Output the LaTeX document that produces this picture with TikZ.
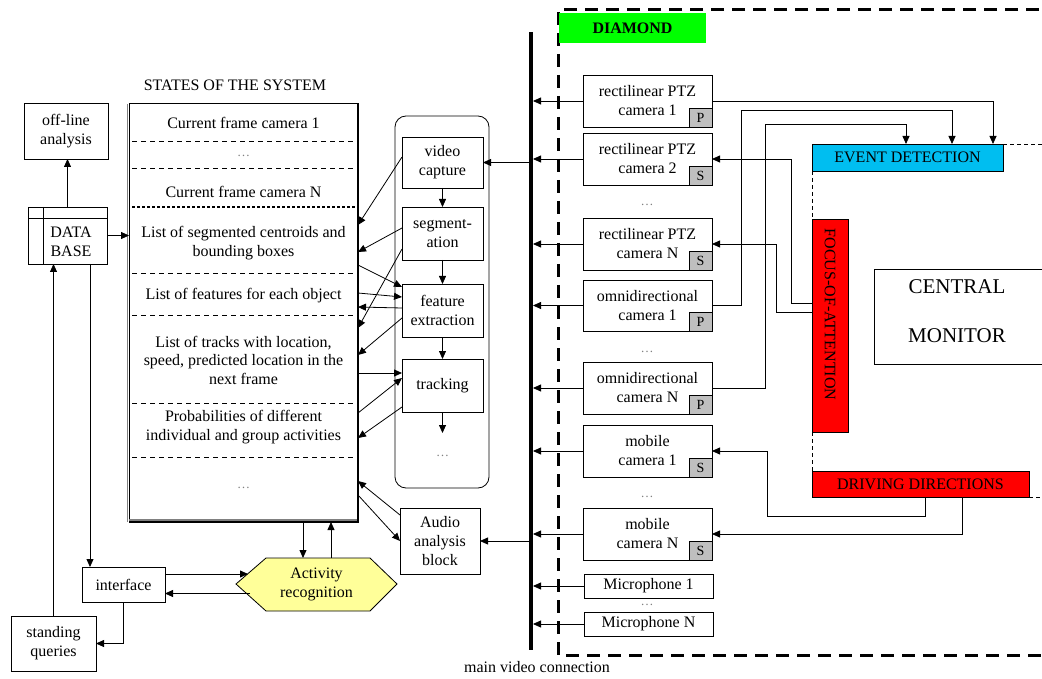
\documentclass[tikz,border=0pt]{standalone}
\usepackage{fontspec}
\setmainfont{Liberation Serif}
\usetikzlibrary{arrows.meta}
\definecolor{edc}{RGB}{0,190,240}
\definecolor{hexy}{RGB}{255,255,153}
\definecolor{dmd}{RGB}{0,255,0}
\begin{document}
\begin{tikzpicture}[x=1pt,y=-1pt,
  every node/.style={font=\fontsize{16}{19}\selectfont, inner sep=0pt, outer sep=0pt},
  box/.style={draw, line width=0.8pt, anchor=north west, align=center},
  cam/.style={box, minimum width=129pt, minimum height=52pt},
  mic/.style={box, minimum width=129pt, minimum height=24pt},
  pbox/.style={box, minimum width=81pt, minimum height=53pt},
  arr/.style={line width=0.8pt, -{Triangle[length=8pt,width=7pt]}},
  ln/.style={line width=0.8pt},
  rowdash/.style={line width=0.8pt, dash pattern=on 5pt off 4pt},
  thindash/.style={line width=0.8pt, dash pattern=on 4pt off 3pt},
  dotsn/.style={text=gray, font=\fontsize{13}{13}\selectfont},
  badge/.style={draw, fill=black!25, line width=0.8pt, minimum width=23pt, minimum height=19pt, anchor=south east, font=\fontsize{14}{14}\selectfont},
]
\useasboundingbox (0,0) rectangle (1042,679);

% ---------------- DIAMOND region ----------------
\draw[line width=3pt, dash pattern=on 13pt off 8pt] (1060,10) -| (558,655) -- (1060,655);
\node[fill=dmd, anchor=north west, minimum width=147pt, minimum height=30pt, font=\bfseries\fontsize{16}{16}\selectfont] (dia) at (559,13) {DIAMOND};

% main bus
\node[fill=black, minimum width=4pt, minimum height=618pt, anchor=north] (bus) at (531,32) {};
\node (mvc) at (537,667) {main video connection};

% cameras
\node[cam] (ptz1) at (583,75) {rectilinear PTZ\\camera 1};
\node[badge] (b1) at (ptz1.south east) {P};
\node[cam] (ptz2) at (583,133) {rectilinear PTZ\\camera 2};
\node[badge] (b2) at (ptz2.south east) {S};
\node[dotsn] (d1) at (647,205) {\ldots};
\node[cam] (ptzN) at (583,218) {rectilinear PTZ\\camera N};
\node[badge] (b3) at (ptzN.south east) {S};
\node[cam, minimum height=51pt] (omni1) at (583,280) {omnidirectional\\camera 1};
\node[badge] (b4) at (omni1.south east) {P};
\node[dotsn] (d2) at (647,352) {\ldots};
\node[cam] (omniN) at (583,362) {omnidirectional\\camera N};
\node[badge] (b5) at (omniN.south east) {P};
\node[cam] (mob1) at (583,425) {mobile\\camera 1};
\node[badge] (b6) at (mob1.south east) {S};
\node[dotsn] (d3) at (647,497) {\ldots};
\node[cam] (mobN) at (583,508) {mobile\\camera N};
\node[badge] (b7) at (mobN.south east) {S};
\node[mic] (mic1) at (584,574) {Microphone 1};
\node[dotsn] (d4) at (647,605) {\ldots};
\node[mic] (micN) at (584,612) {Microphone N};

\foreach \c in {ptz1,ptz2,ptzN,omni1,omniN,mob1,mobN,mic1,micN}
  \draw[arr] (\c.west) -- (\c.west -| bus.east);

% right side blocks
\node[box, fill=edc, minimum width=191pt, minimum height=27pt] (ed) at (812,144) {EVENT DETECTION};
\node[box, fill=red, minimum width=36pt, minimum height=213pt] (foa) at (812,219) {};
\node[rotate=-90] (foat) at ([yshift=11pt]foa.center) {FOCUS-OF-ATTENTION};
\node[box, fill=red, minimum width=217pt, minimum height=26pt] (drv) at (812,471) {DRIVING DIRECTIONS};
\node[box, minimum width=190pt, minimum height=95pt] (cm) at (874,269) {};
\node[font=\fontsize{21}{21}\selectfont] (cm1) at (957,287) {CENTRAL};
\node[font=\fontsize{21}{21}\selectfont] (cm2) at (957,336) {MONITOR};

\draw[thindash] (ed.south west) -- (foa.north west);
\draw[thindash] (foa.south west) -- (drv.north west);
\draw[thindash] (ed.north east) -- ++(45,0);
\draw[thindash] (drv.south east) -- ++(20,0);

% camera -> event detection
\draw[arr] (ptz1.east) -| ([xshift=-10pt]ed.north east);
\draw[arr] (omni1.east) -- ++(29,0) -- ++(0,-195.5) -| ([xshift=-51pt]ed.north east);
\draw[arr] (omniN.east) -- ++(53,0) -- ++(0,-264) -| ([xshift=-97pt]ed.north east);
% focus of attention -> cameras
\draw[arr] ([yshift=22.5pt]foa.west) -- ++(-21,0) |- (ptz2.east);
\draw[arr] ([yshift=13.5pt]foa.west) -- ++(-36,0) |- (ptzN.east);
% driving directions -> mobiles
\draw[arr] ([xshift=113pt]drv.south west) -- ++(0,19) -- ++(-158,0) |- (mob1.east);
\draw[arr] ([xshift=150pt]drv.south west) |- (mobN.east);

% ---------------- States of the system ----------------
\node (title) at (235,85) {STATES OF THE SYSTEM};
\node[draw, line width=1pt, anchor=north west, minimum width=229pt, minimum height=418pt] (st) at (129,104) {};
\draw[gray, line width=1.6pt] ([xshift=-1.5pt]st.south west) -- ([xshift=-1.5pt]st.north west);
\draw[gray, line width=1.6pt] ([yshift=2pt]st.south west) -- ([yshift=2pt]st.south east);
\draw[line width=2pt] (st.north east) -- (st.south east) -- (st.south west);
\foreach \yy in {141,168,273,315,403,457}
  \draw[rowdash] (132,\yy) -- (356,\yy);
\draw[line width=2pt, dash pattern=on 2.5pt off 2.5pt] (132,207) -- (356,207);

\node (r1) at (243.5,123) {Current frame camera 1};
\node[dotsn] (r2) at (243.5,156) {\ldots};
\node (r3) at (243.5,192) {Current frame camera N};
\node[align=center] (r4) at (243.5,243) {List of segmented centroids and\\bounding boxes};
\node (r5) at (243.5,296) {List of features for each object};
\node[align=center, font=\fontsize{16}{18.5}\selectfont] (r6) at (243.5,360) {List of tracks with location,\\speed, predicted location in the\\next frame};
\node[align=center] (r7) at (243.5,427) {Probabilities of different\\individual and group activities};
\node[dotsn] (r8) at (243.5,488) {\ldots};

% ---------------- processing chain ----------------
\node[draw, line width=0.8pt, rounded corners=11pt, anchor=north west, minimum width=94pt, minimum height=372pt] (proc) at (395,116) {};
\node[pbox, minimum height=51pt] (vc) at (402,137) {video\\capture};
\node[pbox] (seg) at (402,207) {segment-\\ation};
\node[pbox] (fe) at (402,284) {feature\\extraction};
\node[pbox] (tr) at (402,359) {tracking};
\node[dotsn] (pd) at (442.5,456) {\ldots};
\draw[arr] (vc.south) -- (seg.north);
\draw[arr] (seg.south) -- (fe.north);
\draw[arr] (fe.south) -- (tr.north);
\draw[arr] (tr.south) -- ++(0,21);

\node[box, minimum width=80pt, minimum height=66pt] (au) at (400,508) {Audio\\analysis\\block};

\draw[arr] (bus.center |- vc.east) -- (vc.east);
\draw[arr] (bus.center |- au.east) -- (au.east);

% arrows between states and processing
\draw[arr] ([yshift=5.5pt]vc.west) -- ([yshift=-121pt]st.north east);
\draw[arr] ([yshift=5.5pt]seg.west) -- ([yshift=-148pt]st.north east);
\draw[arr] ([yshift=-161pt]st.north east) -- ([yshift=-3pt]fe.north west);
\draw[arr] ([yshift=-189pt]st.north east) -- ([yshift=13.5pt]fe.west);
\draw[arr] ([yshift=2.5pt]fe.west) -- ([yshift=-203pt]st.north east);
\draw[arr] ([yshift=-15.5pt]seg.west) -- ([yshift=-224pt]st.north east);
\draw[arr] ([yshift=-7.5pt]fe.west) -- ([yshift=-251pt]st.north east);
\draw[arr] ([yshift=-269pt]st.north east) -- ([yshift=12.5pt]tr.west);
\draw[arr] ([yshift=-309pt]st.north east) -- ([yshift=7.5pt]tr.west);
\draw[arr] ([yshift=-21.5pt]tr.west) -- ([yshift=-334pt]st.north east);
\draw[arr] ([yshift=26pt]au.west) -- ([yshift=-377pt]st.north east);
\draw[arr] ([yshift=-391pt]st.north east) -- (au.west);

% ---------------- left side ----------------
\node[box, minimum width=84pt, minimum height=56pt] (ofl) at (24,103) {off-line\\analysis};
\node[box, minimum width=79pt, minimum height=57pt] (db) at (28,207) {};
\draw[ln] ([yshift=-11pt]db.north west) -- ([yshift=-11pt]db.north east);
\draw[ln] ([xshift=15pt]db.north west) -- ([xshift=15pt]db.south west);
\node[align=center] (dbt) at (71,242) {DATA\\BASE};
\node[box, minimum width=83pt, minimum height=35pt] (itf) at (82,567) {interface};
\node[box, minimum width=85pt, minimum height=55pt] (sq) at (11,616) {standing\\queries};

\draw[arr] (db.north) -- (db.north |- ofl.south);
\draw[arr] (db.east) -- (db.east -| st.west);
\draw[arr] ([xshift=22.5pt]db.south) -- ([xshift=22.5pt]db.south |- itf.north);
\draw[arr] (sq.north) -- (sq.north |- db.south);
\draw[arr] (itf.south) |- (sq.east);

% activity recognition
\filldraw[fill=hexy, line width=0.8pt] (236,584) -- (266,558) -- (370,558) -- (397,584) -- (370,611) -- (266,611) -- cycle;
\node[minimum width=161pt, minimum height=53pt, align=center] (act) at (316.5,584.5) {Activity\\recognition};

\draw[arr] ([yshift=10.5pt]itf.east) -- ([yshift=10.5pt, xshift=12pt]act.west);
\draw[arr] ([yshift=-9pt, xshift=14pt]act.west) -- ([yshift=-9pt]itf.east);
\draw[arr] ([xshift=59.5pt]st.south) -- ([xshift=59.5pt]st.south |- act.north);
\draw[arr] ([xshift=87.5pt]st.south |- act.north) -- ([xshift=87.5pt]st.south);
\end{tikzpicture}
\end{document}
